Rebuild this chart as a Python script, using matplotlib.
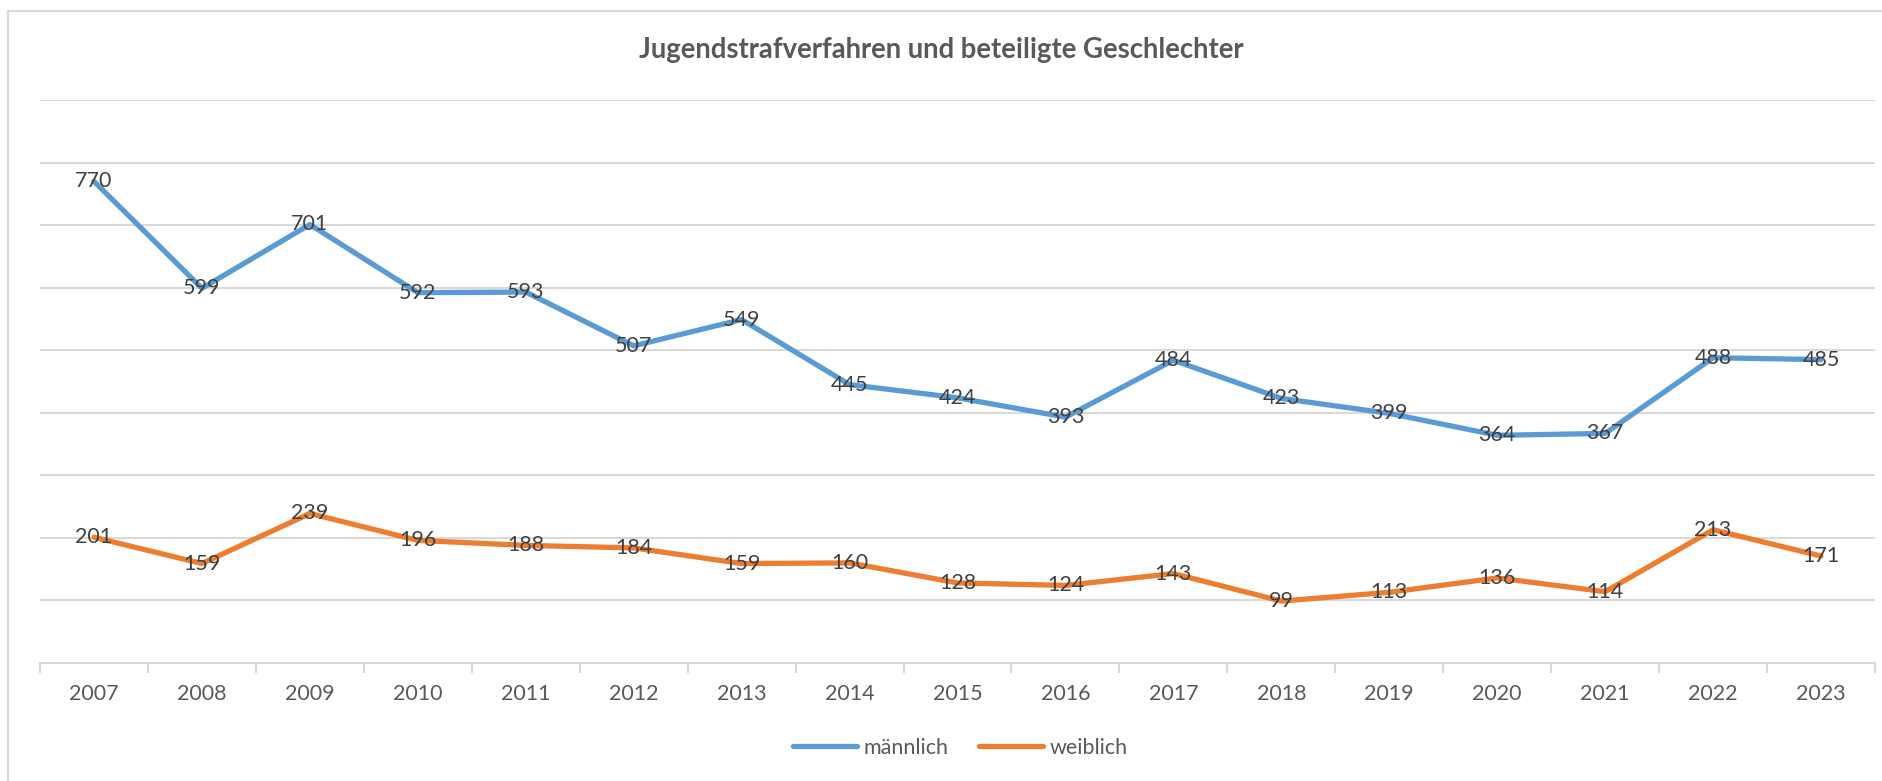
import matplotlib.pyplot as plt
from matplotlib.lines import Line2D

years = ['2007', '2008', '2009', '2010', '2011', '2012', '2013', '2014', '2015',
         '2016', '2017', '2018', '2019', '2020', '2021', '2022', '2023']
maennlich = [770, 599, 701, 592, 593, 507, 549, 445, 424, 393, 484, 423, 399, 364, 367, 488, 485]
weiblich = [201, 159, 239, 196, 188, 184, 159, 160, 128, 124, 143, 99, 113, 136, 114, 213, 171]

plt.rcParams['font.family'] = ['Lato', 'DejaVu Sans']

fig = plt.figure(figsize=(18.83, 7.81), dpi=100)
ax = fig.add_axes([40 / 1883, 1 - 663 / 781, 1835 / 1883, 563 / 781])

x = list(range(len(years)))
grid_col = '#d9d9d9'
for y in range(100, 1000, 100):
    ax.axhline(y, color=grid_col, lw=1.5, zorder=0)

ax.plot(x, maennlich, color='#5b9bd5', lw=3.8, solid_capstyle='round', label='männlich')
ax.plot(x, weiblich, color='#ed7d31', lw=3.8, solid_capstyle='round', label='weiblich')

for xi, v in zip(x, maennlich):
    ax.text(xi, v, str(v), ha='center', va='center', fontsize=15.5, color='#404040')
for xi, v in zip(x, weiblich):
    ax.text(xi, v, str(v), ha='center', va='center', fontsize=15.5, color='#404040')

ax.set_xlim(-0.5, len(years) - 0.5)
ax.set_ylim(0, 900)
ax.set_yticks([])
ax.set_xticks(x)
ax.set_xticklabels(years, fontsize=15.5, color='#595959')
ax.tick_params(axis='x', length=0, pad=15)
ax.set_xticks([i - 0.5 for i in range(len(years) + 1)], minor=True)
ax.tick_params(axis='x', which='minor', length=7, width=1.5, color=grid_col, direction='out')
for s in ['top', 'right', 'left']:
    ax.spines[s].set_visible(False)
ax.spines['bottom'].set_color(grid_col)
ax.spines['bottom'].set_linewidth(1.5)

fig.text(0.5, 1 - 50 / 781, 'Jugendstrafverfahren und beteiligte Geschlechter',
         ha='center', va='center', fontsize=19.8, fontweight='bold', color='#595959')

handles = [Line2D([0], [0], color='#5b9bd5', lw=3.8, solid_capstyle='round'),
           Line2D([0], [0], color='#ed7d31', lw=3.8, solid_capstyle='round')]
fig.legend(handles, ['männlich', 'weiblich'], loc='center', bbox_to_anchor=(0.51, 1 - 748 / 781),
           ncol=2, frameon=False, fontsize=15.5, labelcolor='#595959',
           handlelength=3.0, columnspacing=1.4, handletextpad=0.3)

# outer chart frame (left and top edges visible)
fig.add_artist(Line2D([8 / 1883, 8 / 1883], [0, 1 - 11 / 781], color=grid_col, lw=1.5))
fig.add_artist(Line2D([8 / 1883, 1], [1 - 11 / 781, 1 - 11 / 781], color=grid_col, lw=1.5))

fig.savefig('out.png', dpi=100)
